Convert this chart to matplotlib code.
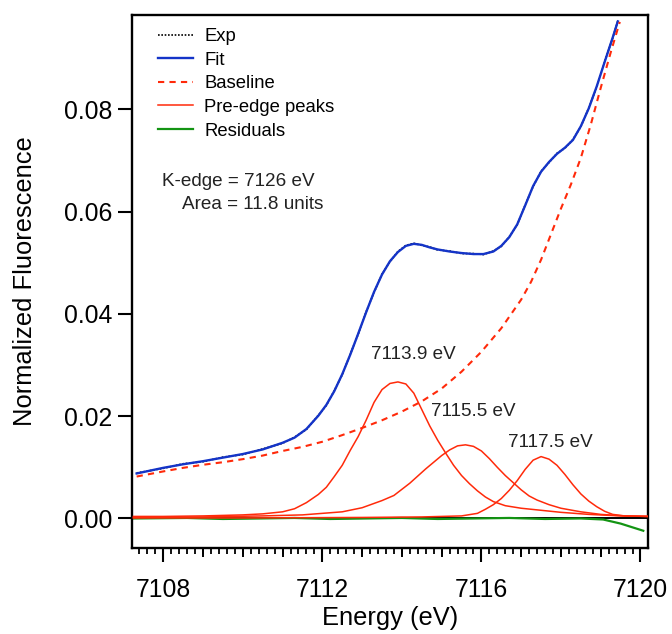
import matplotlib
matplotlib.use("Agg")
import matplotlib.pyplot as plt
from matplotlib.ticker import MultipleLocator, FormatStrFormatter, NullFormatter

plt.rcParams['font.family'] = ['Liberation Sans', 'DejaVu Sans']

# Fe K pre-edge: measured spectrum, total fit, edge baseline, three peaks, residuals
energy_fit = [7107.33, 7108.0, 7108.5, 7109.0, 7109.5, 7110.0, 7110.5, 7111.0,
              7111.3, 7111.6, 7111.9, 7112.1, 7112.3, 7112.5, 7112.7, 7112.9,
              7113.1, 7113.3, 7113.5, 7113.7, 7113.9, 7114.1, 7114.3, 7114.5,
              7114.7, 7114.9, 7115.2, 7115.5, 7115.8, 7116.05, 7116.3, 7116.5,
              7116.7, 7116.9, 7117.1, 7117.3, 7117.5, 7117.7, 7117.9, 7118.1,
              7118.3, 7118.5, 7118.7, 7118.9, 7119.1, 7119.3, 7119.43]
fit = [0.0088, 0.0099, 0.0106, 0.0112, 0.0119, 0.0126, 0.0135, 0.0148,
       0.0158, 0.0175, 0.0201, 0.0222, 0.0249, 0.0282, 0.0320, 0.0361,
       0.0403, 0.0443, 0.0477, 0.0503, 0.0521, 0.0533, 0.0537, 0.0535,
       0.0530, 0.0526, 0.0522, 0.0519, 0.0517, 0.0517, 0.0522, 0.0533,
       0.0550, 0.0575, 0.0612, 0.0650, 0.0678, 0.0697, 0.0713, 0.0725,
       0.0740, 0.0767, 0.0802, 0.0845, 0.0893, 0.0940, 0.0972]

energy_exp = energy_fit
exp_data = [0.0089, 0.0098, 0.0107, 0.0111, 0.0120, 0.0125, 0.0136, 0.0147,
            0.0159, 0.0174, 0.0202, 0.0221, 0.0250, 0.0281, 0.0321, 0.0360,
            0.0404, 0.0442, 0.0478, 0.0502, 0.0522, 0.0534, 0.0538, 0.0534,
            0.0531, 0.0525, 0.0523, 0.0518, 0.0518, 0.0516, 0.0523, 0.0532,
            0.0551, 0.0574, 0.0613, 0.0649, 0.0679, 0.0696, 0.0714, 0.0724,
            0.0741, 0.0766, 0.0803, 0.0844, 0.0894, 0.0939, 0.0973]

energy_base = [7107.33, 7108.0, 7108.5, 7109.0, 7109.5, 7110.0, 7110.5, 7111.0,
               7111.5, 7112.0, 7112.5, 7113.0, 7113.5, 7114.0, 7114.5, 7115.0,
               7115.5, 7116.0, 7116.5, 7117.0, 7117.25, 7117.5, 7117.75, 7118.0,
               7118.25, 7118.5, 7118.75, 7119.0, 7119.25, 7119.48]
baseline = [0.0082, 0.0092, 0.0099, 0.0105, 0.0110, 0.0116, 0.0123, 0.0132,
            0.0140, 0.0150, 0.0163, 0.0177, 0.0192, 0.0209, 0.0229, 0.0254,
            0.0287, 0.0326, 0.0372, 0.0428, 0.0463, 0.0506, 0.0556, 0.0606,
            0.0653, 0.0705, 0.0770, 0.0842, 0.0911, 0.0971]

energy_p1 = [7107.25, 7108.0, 7109.0, 7110.0, 7110.5, 7111.0, 7111.3, 7111.6,
             7111.9, 7112.1, 7112.3, 7112.5, 7112.7, 7112.9, 7113.1, 7113.3,
             7113.5, 7113.7, 7113.9, 7114.1, 7114.3, 7114.5, 7114.7, 7114.9,
             7115.1, 7115.3, 7115.5, 7115.7, 7115.9, 7116.1, 7116.3, 7116.6,
             7117.0, 7117.5, 7118.0, 7118.7, 7119.5, 7120.2]
peak1 = [0.0004, 0.0004, 0.0005, 0.0007, 0.0009, 0.0013, 0.0019, 0.0031,
         0.0047, 0.0061, 0.0082, 0.0104, 0.0133, 0.0160, 0.0192, 0.0227,
         0.0252, 0.0264, 0.0267, 0.0263, 0.0245, 0.0213, 0.0181, 0.0153,
         0.0128, 0.0104, 0.0084, 0.0068, 0.0054, 0.0042, 0.0033, 0.0025,
         0.0020, 0.0016, 0.0012, 0.0008, 0.0005, 0.0004]

energy_p2 = [7107.25, 7109.0, 7110.5, 7111.5, 7112.5, 7113.0, 7113.5, 7113.8,
             7114.0, 7114.2, 7114.4, 7114.6, 7114.8, 7115.0, 7115.2, 7115.4,
             7115.6, 7115.8, 7116.0, 7116.2, 7116.4, 7116.6, 7116.8, 7117.0,
             7117.2, 7117.4, 7117.7, 7118.0, 7118.5, 7119.0, 7119.6, 7120.2]
peak2 = [0.0002, 0.0003, 0.0005, 0.0007, 0.0013, 0.0021, 0.0035, 0.0045,
         0.0057, 0.0069, 0.0083, 0.0097, 0.0110, 0.0123, 0.0134, 0.0142,
         0.0144, 0.0141, 0.0132, 0.0117, 0.0100, 0.0084, 0.0070, 0.0056,
         0.0044, 0.0036, 0.0027, 0.0020, 0.0013, 0.0008, 0.0005, 0.0004]

energy_p3 = [7107.25, 7110.0, 7113.0, 7114.5, 7115.5, 7115.9, 7116.1, 7116.3,
             7116.5, 7116.7, 7116.9, 7117.1, 7117.3, 7117.5, 7117.7, 7117.9,
             7118.1, 7118.3, 7118.5, 7118.7, 7118.9, 7119.1, 7119.3, 7119.6, 7120.2]
peak3 = [0.0001, 0.0001, 0.0002, 0.0003, 0.0005, 0.0010, 0.0018, 0.0027,
         0.0039, 0.0055, 0.0074, 0.0096, 0.0114, 0.0121, 0.0116, 0.0104,
         0.0086, 0.0066, 0.0048, 0.0034, 0.0023, 0.0014, 0.0008, 0.0005, 0.0004]

energy_res = [7107.25, 7108.6, 7109.5, 7110.4, 7111.3, 7112.2, 7113.1, 7114.0,
              7114.9, 7115.8, 7116.7, 7117.6, 7118.5, 7119.06, 7119.5, 7120.07]
residuals = [0.0000, 0.0001, -0.0001, 0.0000, 0.0001, -0.0001, 0.0000, 0.0001,
             -0.0001, 0.0000, 0.0001, -0.0001, 0.0000, -0.0002, -0.0010, -0.0024]

peak_labels = ["7113.9 eV", "7115.5 eV", "7117.5 eV"]
peak_label_x = [7114.30, 7115.80, 7117.74]
peak_label_y = [0.0311, 0.0200, 0.0139]

xticks = [7108, 7112, 7116, 7120]
yticks = [0.00, 0.02, 0.04, 0.06, 0.08]

BLUE = "#1434c8"
RED = "#ff2a0a"
GREEN = "#139413"

fig = plt.figure(figsize=(6.72, 6.34), dpi=100)
ax = fig.add_axes([0.1964, 0.136, 0.9643 - 0.1964, 0.9763 - 0.136])

ax.axhline(0, color="black", lw=1.4, zorder=1)
ax.plot(energy_exp, exp_data, color="black", lw=1.2, ls=(0, (1, 1)), zorder=2, label="Exp")
ax.plot(energy_fit, fit, color=BLUE, lw=1.7, zorder=3, label="Fit")
ax.plot(energy_base, baseline, color=RED, lw=1.5, ls=(0, (3, 2.5)), zorder=3, label="Baseline")
ax.plot(energy_p1, peak1, color=RED, lw=1.1, zorder=3, label="Pre-edge peaks")
ax.plot(energy_p2, peak2, color=RED, lw=1.1, zorder=3)
ax.plot(energy_p3, peak3, color=RED, lw=1.1, zorder=3)
ax.plot(energy_res, residuals, color=GREEN, lw=1.6, zorder=2.5, label="Residuals")

ax.set_xlim(7107.213, 7120.189)
ax.set_ylim(-0.00573, 0.09844)

for s in ax.spines.values():
    s.set_linewidth(1.7)

ax.set_xticks(xticks)
ax.xaxis.set_minor_locator(MultipleLocator(0.2))
ax.set_yticks(yticks)
ax.yaxis.set_major_formatter(FormatStrFormatter("%.2f"))
ax.yaxis.set_minor_formatter(NullFormatter())
ax.tick_params(axis="x", which="major", direction="out", length=10, width=1.5,
               labelsize=17.8, pad=12)
ax.tick_params(axis="x", which="minor", direction="out", length=4.3, width=1.3)
ax.tick_params(axis="y", which="major", direction="out", length=10, width=1.5,
               labelsize=17.8, pad=4)

# intermediate ticks every 1 eV
sec = ax.secondary_xaxis("bottom")
sec.xaxis.set_major_locator(MultipleLocator(1))
sec.xaxis.set_major_formatter(NullFormatter())
sec.tick_params(axis="x", which="major", direction="out", length=6.5, width=1.4)
sec.spines["bottom"].set_visible(False)

ax.set_xlabel("Energy (eV)", fontsize=18.4, labelpad=3)
ax.set_ylabel("Normalized Fluorescence", fontsize=18.4)
ax.yaxis.set_label_coords(-0.1845, 0.5)

leg = ax.legend(loc="upper left", bbox_to_anchor=(158.3 / 672, 1 - 28 / 634),
                bbox_transform=fig.transFigure, frameon=False, fontsize=13.3,
                borderpad=0, borderaxespad=0, handlelength=1.9, handletextpad=0.58,
                labelspacing=0.36)

ax.text(7107.96, 0.0650, "K-edge = 7126 eV", fontsize=13.6, color="#222222",
        ha="left", va="baseline")
ax.text(7108.46, 0.0605, "Area = 11.8 units", fontsize=13.6, color="#222222",
        ha="left", va="baseline")
for lbl, lx, ly in zip(peak_labels, peak_label_x, peak_label_y):
    ax.text(lx, ly, lbl, fontsize=13.6, color="#222222", ha="center", va="baseline")

fig.savefig("out.png", dpi=100)
